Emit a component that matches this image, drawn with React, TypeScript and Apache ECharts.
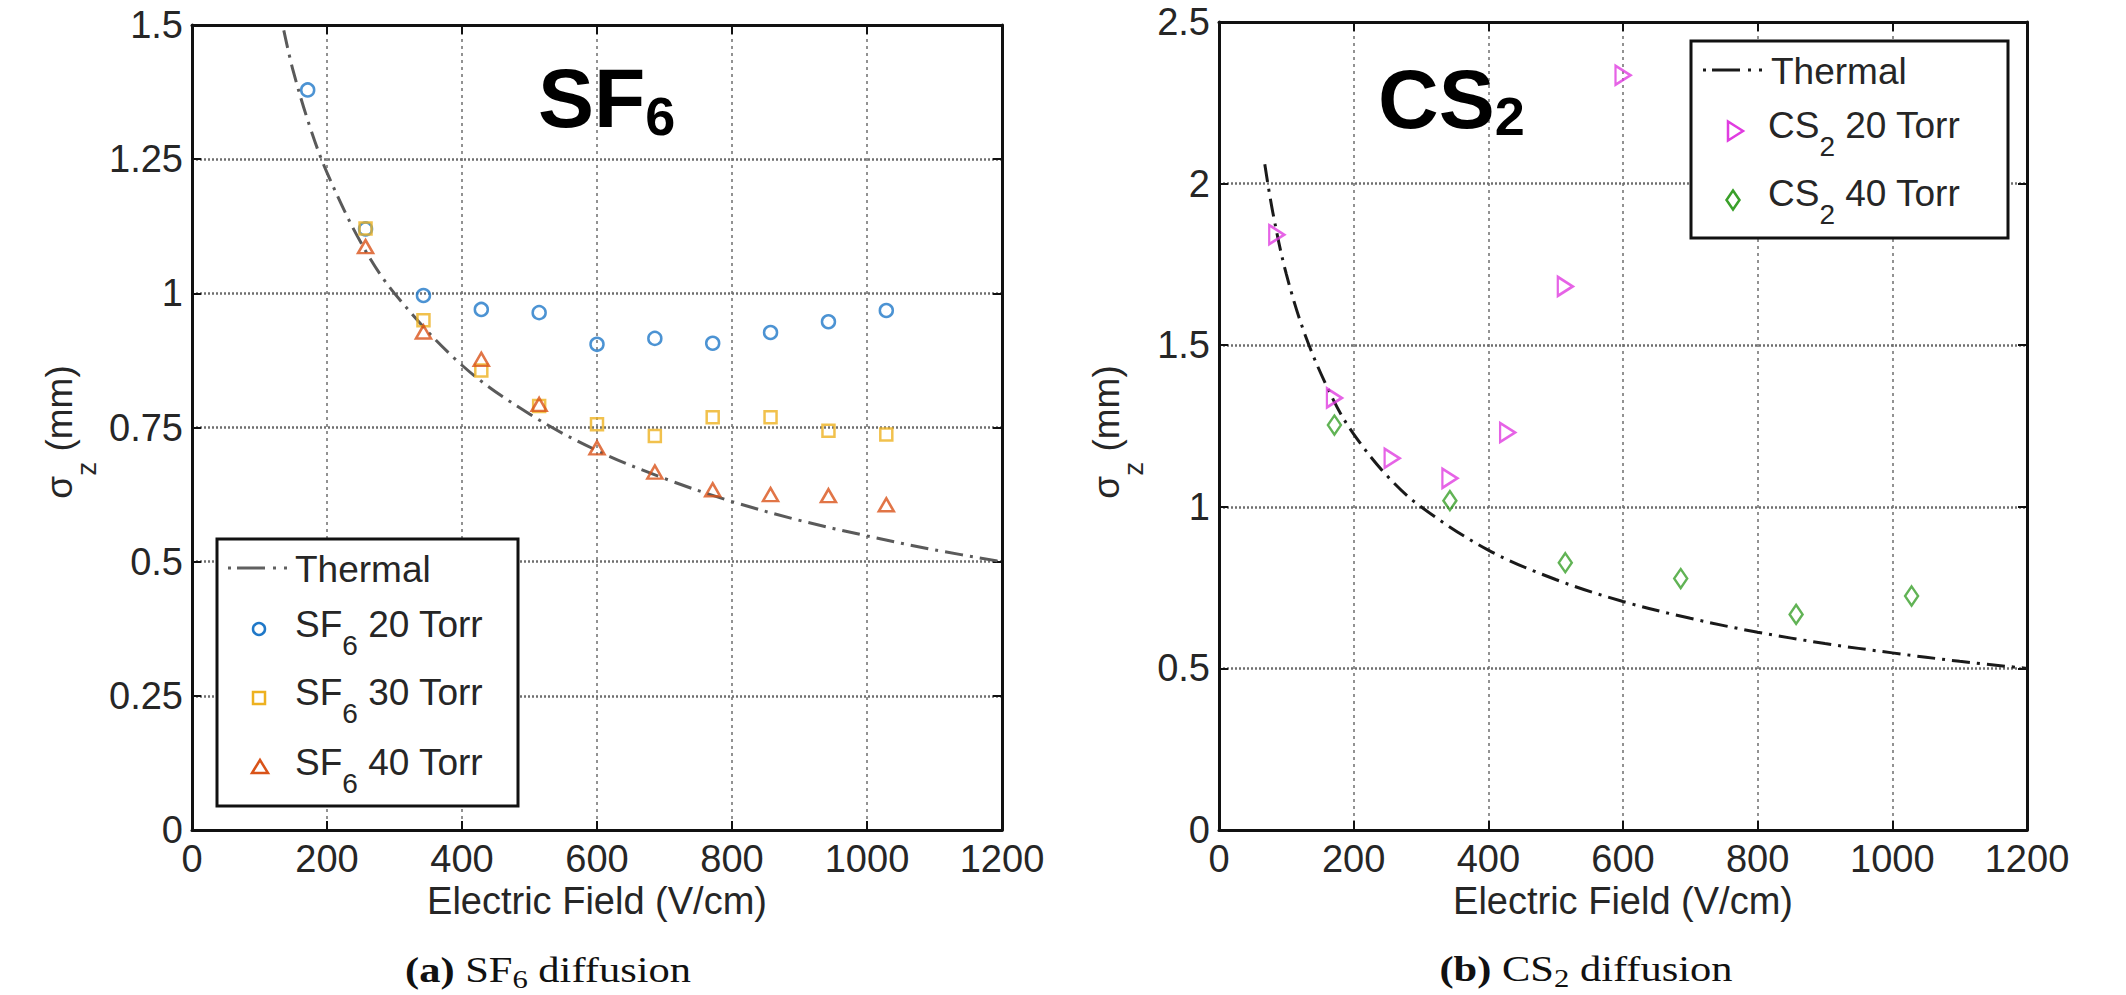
import React, { useEffect, useRef } from 'react';
import * as echarts from 'echarts';

// ---------- data ----------
const fieldMin = 0;
const fieldMax = 1200;
const fieldStep = 200;

const sf6Field = [171.4, 257.1, 342.9, 428.6, 514.3, 600, 685.7, 771.4, 857.1, 942.9, 1028.6];
const sf6Torr20 = [1.379, 1.12, 0.996, 0.97, 0.964, 0.905, 0.916, 0.907, 0.927, 0.947, 0.968];
const sf6Torr30 = [null, 1.121, 0.95, 0.856, 0.79, 0.756, 0.734, 0.769, 0.769, 0.744, 0.737];
const sf6Torr40 = [null, 1.087, 0.928, 0.877, 0.793, 0.712, 0.667, 0.634, 0.625, 0.623, 0.606];
const sf6ThermalField = [136, 150, 175, 200, 250, 300, 400, 500, 600, 700, 800, 900, 1000, 1100, 1200];
const sf6Thermal = [1.49, 1.414, 1.309, 1.225, 1.095, 1.0, 0.866, 0.775, 0.707, 0.655, 0.612, 0.577, 0.548, 0.522, 0.5];

const cs2Field20 = [85.7, 171.4, 257.1, 342.9, 428.6, 514.3, 600];
const cs2Torr20 = [1.842, 1.337, 1.15, 1.088, 1.23, 1.682, 2.335];
const cs2Field40 = [171.4, 342.9, 514.3, 685.7, 857.1, 1028.6];
const cs2Torr40 = [1.253, 1.019, 0.827, 0.778, 0.667, 0.724];
const cs2ThermalField = [68, 80, 100, 130, 170, 200, 250, 300, 400, 500, 600, 700, 800, 900, 1000, 1100, 1200];
const cs2Thermal = [2.06, 1.91, 1.72, 1.52, 1.33, 1.225, 1.095, 1.0, 0.866, 0.775, 0.707, 0.655, 0.612, 0.577, 0.548, 0.522, 0.5];

const sf6SigmaMax = 1.5;
const sf6SigmaStep = 0.25;
const cs2SigmaMax = 2.5;
const cs2SigmaStep = 0.5;

// ---------- styling ----------
const SANS = "'Liberation Sans', Arial, Helvetica, sans-serif";
const SERIF = "'Liberation Serif', 'Times New Roman', serif";
const TXT = '#262626';
const AX = '#111';
const BLUE = '#1f78c8';
const YELLOW = '#edb120';
const RED = '#d95319';
const MAGENTA = '#e03ce0';
const GREEN = '#3aa02a';
const DASHDOT = [18, 7, 3, 7];

let measureCtx: CanvasRenderingContext2D | null = null;
function textWidth(text: string, font: string): number {
  if (!measureCtx) measureCtx = document.createElement('canvas').getContext('2d');
  measureCtx!.font = font;
  return measureCtx!.measureText(text).width;
}

type Part = { t: string; size: number; dy?: number; bold?: boolean };
function textRow(
  parts: Part[],
  o: { x: number; y: number; family: string; color: string; align: 'left' | 'center'; rotation?: number; scaleX?: number }
) {
  const fonts = parts.map((p) => `${p.bold ? 'bold ' : ''}${p.size}px ${o.family}`);
  const items = parts.map((p, i) => {
    const m = p.t.match(/^ */);
    const lead = m ? m[0] : '';
    const body = p.t.slice(lead.length);
    const leadW = lead ? textWidth(lead, fonts[i]) : 0;
    const bodyW = textWidth(body, fonts[i]);
    return { body, leadW, bodyW };
  });
  const total = items.reduce((a, it) => a + it.leadW + it.bodyW, 0);
  let cur = o.align === 'center' ? -total / 2 : 0;
  const children = items.map((it, i) => {
    cur += it.leadW;
    const el = {
      type: 'text',
      x: cur,
      y: parts[i].dy || 0,
      z: 100,
      style: { text: it.body, font: fonts[i], fill: o.color, align: 'left', verticalAlign: 'middle' },
    };
    cur += it.bodyW;
    return el;
  });
  return { type: 'group', x: o.x, y: o.y, rotation: o.rotation || 0, scaleX: o.scaleX || 1, z: 100, children };
}

function pairs(xs: number[], ys: (number | null)[]) {
  const out: number[][] = [];
  xs.forEach((x, i) => {
    const y = ys[i];
    if (y !== null && y !== undefined) out.push([x, y]);
  });
  return out;
}

const plain = (v: number) => String(v);

function xAxes(gridIndex: number) {
  const base = {
    type: 'value',
    gridIndex,
    min: fieldMin,
    max: fieldMax,
    interval: fieldStep,
    axisLine: { show: true, onZero: false, lineStyle: { color: AX, width: 3 } },
    axisTick: { show: true, inside: true, length: 9, lineStyle: { color: AX, width: 2 } },
  };
  return [
    {
      ...base,
      position: 'bottom',
      axisLabel: { show: true, fontSize: 38, fontFamily: SANS, color: TXT, margin: 10, formatter: plain },
      splitLine: { show: true, lineStyle: { type: [3, 4], color: '#6f6f6f', width: 1.5 } },
    },
    { ...base, position: 'top', axisLabel: { show: false }, splitLine: { show: false } },
  ];
}

function yAxes(gridIndex: number, max: number, step: number) {
  const base = {
    type: 'value',
    gridIndex,
    min: 0,
    max,
    interval: step,
    axisLine: { show: true, onZero: false, lineStyle: { color: AX, width: 3 } },
    axisTick: { show: true, inside: true, length: 9, lineStyle: { color: AX, width: 2 } },
  };
  return [
    {
      ...base,
      position: 'left',
      axisLabel: { show: true, fontSize: 38, fontFamily: SANS, color: TXT, margin: 9, formatter: plain },
      splitLine: { show: true, lineStyle: { type: [2, 2], color: '#6f6f6f', width: 2.5 } },
    },
    { ...base, position: 'right', axisLabel: { show: false }, splitLine: { show: false } },
  ];
}

function hollow(color: string) {
  return { color: 'rgba(0,0,0,0)', borderColor: color, borderWidth: 2.5 };
}

function dashLegend(x1: number, x2: number, y: number, color: string) {
  return {
    type: 'line',
    z: 101,
    shape: { x1, y1: y, x2, y2: y },
    style: { stroke: color, lineWidth: 3, lineDash: [3, 6, 28, 8, 3, 8, 3, 200] },
  };
}

function buildOption() {
  const legendText = (parts: Part[], x: number, y: number) =>
    textRow(parts, { x, y, family: SANS, color: TXT, align: 'left' });

  const graphic: any[] = [
    // ----- left legend -----
    { type: 'rect', z: 100, shape: { x: 217, y: 539, width: 301, height: 267 }, style: { fill: '#fff', stroke: AX, lineWidth: 3 } },
    dashLegend(228, 292, 568, '#606060'),
    legendText([{ t: 'Thermal', size: 37 }], 295, 569),
    { type: 'circle', z: 101, shape: { cx: 259, cy: 629, r: 6 }, style: { fill: 'none', stroke: BLUE, lineWidth: 2.5 } },
    legendText([{ t: 'SF', size: 37 }, { t: '6', size: 28, dy: 21 }, { t: ' 20 Torr', size: 37 }], 295, 624),
    { type: 'rect', z: 101, shape: { x: 253, y: 692, width: 12, height: 12 }, style: { fill: 'none', stroke: YELLOW, lineWidth: 2.5 } },
    legendText([{ t: 'SF', size: 37 }, { t: '6', size: 28, dy: 21 }, { t: ' 30 Torr', size: 37 }], 295, 692),
    { type: 'polygon', z: 101, shape: { points: [[252, 773], [268, 773], [260, 760]] }, style: { fill: 'none', stroke: RED, lineWidth: 2.5 } },
    legendText([{ t: 'SF', size: 37 }, { t: '6', size: 28, dy: 21 }, { t: ' 40 Torr', size: 37 }], 295, 762),

    // ----- right legend -----
    { type: 'rect', z: 100, shape: { x: 1691, y: 41, width: 317, height: 197 }, style: { fill: '#fff', stroke: AX, lineWidth: 3 } },
    dashLegend(1703, 1767, 70, '#1a1a1a'),
    legendText([{ t: 'Thermal', size: 37 }], 1771, 71),
    { type: 'polygon', z: 101, shape: { points: [[1728, 121.5], [1728, 140.5], [1743, 131]] }, style: { fill: 'none', stroke: MAGENTA, lineWidth: 2.5 } },
    legendText([{ t: 'CS', size: 37 }, { t: '2', size: 28, dy: 21 }, { t: ' 20 Torr', size: 37 }], 1768, 125),
    { type: 'polygon', z: 101, shape: { points: [[1733, 190.5], [1739.5, 200], [1733, 209.5], [1726.5, 200]] }, style: { fill: 'none', stroke: GREEN, lineWidth: 2.5 } },
    legendText([{ t: 'CS', size: 37 }, { t: '2', size: 28, dy: 21 }, { t: ' 40 Torr', size: 37 }], 1768, 193),

    // ----- big in-plot titles -----
    textRow([{ t: 'SF', size: 84, bold: true }, { t: '6', size: 54, bold: true, dy: 18 }], { x: 538, y: 98, family: SANS, color: '#000', align: 'left' }),
    textRow([{ t: 'CS', size: 84, bold: true }, { t: '2', size: 54, bold: true, dy: 17 }], { x: 1378, y: 99, family: SANS, color: '#000', align: 'left' }),

    // ----- axis names -----
    textRow([{ t: 'Electric Field (V/cm)', size: 38 }], { x: 597, y: 901, family: SANS, color: TXT, align: 'center' }),
    textRow([{ t: 'Electric Field (V/cm)', size: 38 }], { x: 1623, y: 901, family: SANS, color: TXT, align: 'center' }),
    textRow([{ t: 'σ', size: 37 }, { t: 'z', size: 28, dy: 27 }, { t: ' (mm)', size: 37 }], { x: 59, y: 432, family: SANS, color: TXT, align: 'center', rotation: Math.PI / 2 }),
    textRow([{ t: 'σ', size: 37 }, { t: 'z', size: 28, dy: 27 }, { t: ' (mm)', size: 37 }], { x: 1106, y: 432, family: SANS, color: TXT, align: 'center', rotation: Math.PI / 2 }),

    // ----- captions -----
    textRow(
      [{ t: '(a)', size: 36, bold: true }, { t: ' SF', size: 36 }, { t: '6', size: 26, dy: 9 }, { t: ' diffusion', size: 36 }],
      { x: 548, y: 970, family: SERIF, color: '#111', align: 'center', scaleX: 1.18 }
    ),
    textRow(
      [{ t: '(b)', size: 36, bold: true }, { t: ' CS', size: 36 }, { t: '2', size: 26, dy: 9 }, { t: ' diffusion', size: 36 }],
      { x: 1586, y: 969, family: SERIF, color: '#111', align: 'center', scaleX: 1.18 }
    ),
  ];

  return {
    animation: false,
    backgroundColor: '#fff',
    grid: [
      { left: 192, top: 25, width: 810, height: 805, containLabel: false },
      { left: 1219, top: 22, width: 808, height: 808, containLabel: false },
    ],
    xAxis: [...xAxes(0), ...xAxes(1)],
    yAxis: [...yAxes(0, sf6SigmaMax, sf6SigmaStep), ...yAxes(1, cs2SigmaMax, cs2SigmaStep)],
    series: [
      {
        name: 'Thermal',
        type: 'line',
        xAxisIndex: 0,
        yAxisIndex: 0,
        data: pairs(sf6ThermalField, sf6Thermal),
        showSymbol: false,
        smooth: 0.35,
        lineStyle: { color: '#5a5a5a', width: 3, type: DASHDOT },
        z: 2,
      },
      {
        name: 'SF6 20 Torr',
        type: 'scatter',
        xAxisIndex: 0,
        yAxisIndex: 0,
        data: pairs(sf6Field, sf6Torr20),
        symbol: 'circle',
        symbolSize: 13,
        itemStyle: hollow(BLUE),
        z: 3,
      },
      {
        name: 'SF6 30 Torr',
        type: 'scatter',
        xAxisIndex: 0,
        yAxisIndex: 0,
        data: pairs(sf6Field, sf6Torr30),
        symbol: 'rect',
        symbolSize: 12,
        itemStyle: hollow(YELLOW),
        z: 4,
      },
      {
        name: 'SF6 40 Torr',
        type: 'scatter',
        xAxisIndex: 0,
        yAxisIndex: 0,
        data: pairs(sf6Field, sf6Torr40),
        symbol: 'triangle',
        symbolSize: [15, 13],
        itemStyle: hollow(RED),
        z: 5,
      },
      {
        name: 'Thermal CS2',
        type: 'line',
        xAxisIndex: 2,
        yAxisIndex: 2,
        data: pairs(cs2ThermalField, cs2Thermal),
        showSymbol: false,
        smooth: 0.35,
        lineStyle: { color: '#1a1a1a', width: 3, type: DASHDOT },
        z: 2,
      },
      {
        name: 'CS2 20 Torr',
        type: 'scatter',
        xAxisIndex: 2,
        yAxisIndex: 2,
        data: pairs(cs2Field20, cs2Torr20),
        symbol: 'triangle',
        symbolRotate: -90,
        symbolSize: [19, 15],
        itemStyle: hollow(MAGENTA),
        z: 4,
      },
      {
        name: 'CS2 40 Torr',
        type: 'scatter',
        xAxisIndex: 2,
        yAxisIndex: 2,
        data: pairs(cs2Field40, cs2Torr40),
        symbol: 'diamond',
        symbolSize: [13, 19],
        itemStyle: hollow(GREEN),
        z: 5,
      },
    ],
    graphic,
  };
}

export default function App() {
  const ref = useRef<HTMLDivElement>(null);
  useEffect(() => {
    if (!ref.current) return;
    const chart = echarts.init(ref.current, undefined, { renderer: 'svg' });
    chart.setOption(buildOption() as any);
    return () => {
      chart.dispose();
    };
  }, []);
  return (
    <div
      ref={ref}
      style={{ position: 'fixed', left: 0, top: 0, width: 2126, height: 995, background: '#fff' }}
    />
  );
}
